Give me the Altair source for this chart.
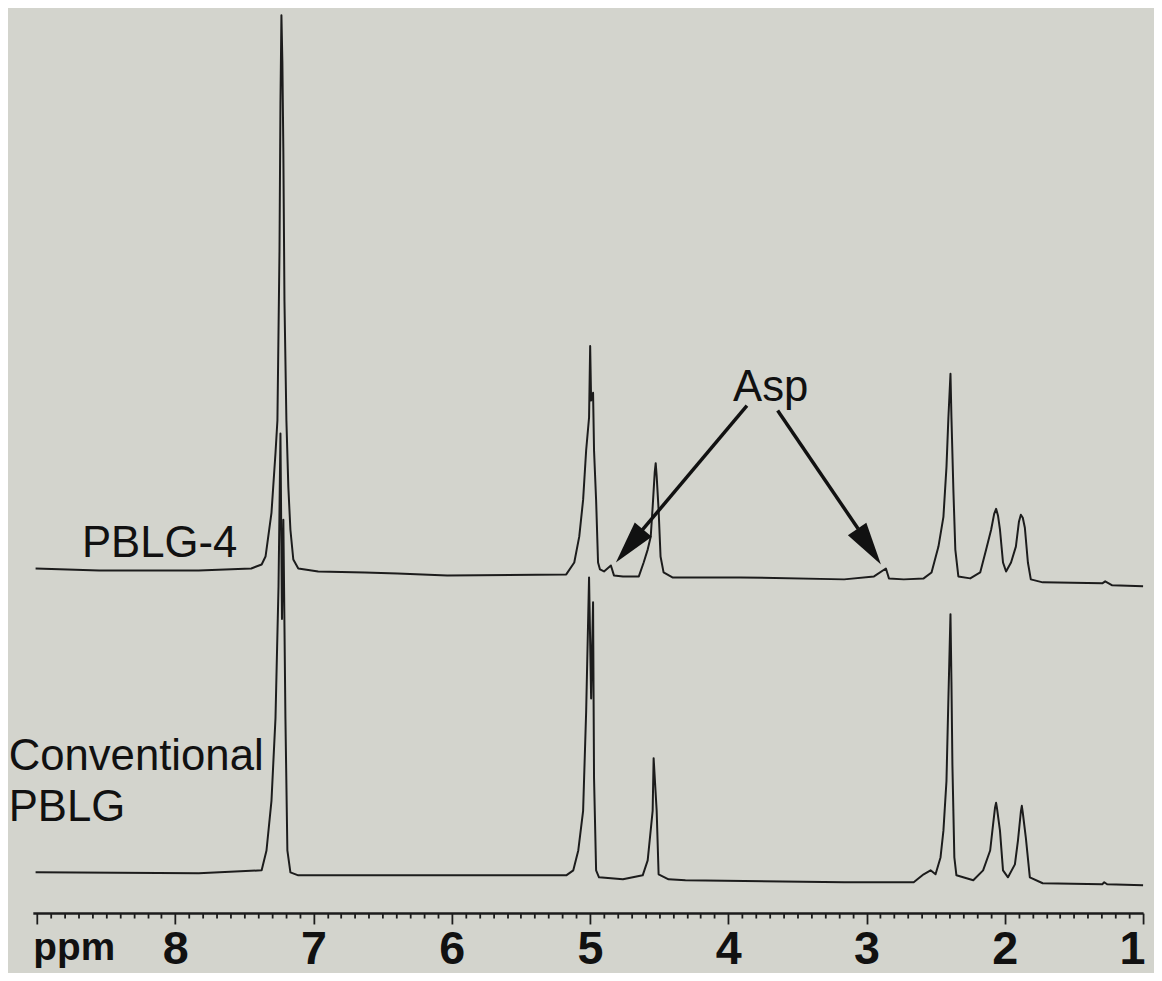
import altair as alt
import pandas as pd

# ---------------- data ----------------
# PBLG-4 trace (upper): chemical shift (ppm) and intensity above its own baseline
ppm_upper = [9.01, 8.55, 7.83, 7.45, 7.375, 7.347, 7.34, 7.304, 7.275, 7.261, 7.246, 7.239,
             7.232, 7.225, 7.218, 7.21, 7.196, 7.182, 7.167, 7.146, 7.11, 6.966, 6.629, 6.392,
             6.033, 5.172, 5.114, 5.078, 5.05, 5.028, 5.007, 4.999, 4.992, 4.978, 4.971, 4.956,
             4.942, 4.928, 4.899, 4.849, 4.827, 4.762, 4.647, 4.612, 4.583, 4.561, 4.547, 4.532,
             4.525, 4.518, 4.504, 4.49, 4.468, 4.404, 4.238, 3.915, 3.162, 2.946, 2.86, 2.838,
             2.731, 2.587, 2.53, 2.48, 2.444, 2.422, 2.408, 2.393, 2.386, 2.372, 2.358, 2.336,
             2.25, 2.178, 2.135, 2.099, 2.077, 2.063, 2.049, 2.035, 2.013, 1.991, 1.955, 1.92,
             1.898, 1.884, 1.87, 1.855, 1.833, 1.812, 1.726, 1.295, 1.274, 1.223, 1.0]
int_upper = [19, 17, 17, 19, 23, 31, 38, 75, 135, 168, 338, 488,
             576, 528, 438, 288, 168, 101, 58, 28, 19, 16, 15, 14,
             12, 13, 25, 51, 88, 138, 171, 243, 188, 196, 138, 88,
             25, 18, 16, 22, 12, 11, 11, 25, 38, 51, 81, 116,
             125, 112, 78, 31, 15, 10, 10, 10, 8, 11, 19, 9,
             8, 9, 15, 41, 71, 121, 171, 215, 171, 98, 38, 11,
             9, 15, 38, 58, 74, 79, 72, 58, 25, 16, 25, 41,
             66, 73, 70, 60, 25, 8, 5, 4, 6, 2, 1]

# Conventional PBLG trace (lower)
ppm_lower = [9.01, 7.83, 7.375, 7.34, 7.304, 7.275, 7.253, 7.239, 7.228, 7.218, 7.203, 7.189,
             7.167, 7.11, 5.172, 5.121, 5.085, 5.05, 5.028, 5.007, 4.992, 4.978, 4.971, 4.956,
             4.935, 4.762, 4.619, 4.583, 4.547, 4.54, 4.518, 4.504, 4.432, 4.31, 3.162, 2.659,
             2.587, 2.537, 2.501, 2.465, 2.444, 2.422, 2.408, 2.393, 2.386, 2.379, 2.365, 2.35,
             2.228, 2.157, 2.106, 2.085, 2.071, 2.063, 2.056, 2.035, 2.013, 1.977, 1.927, 1.905,
             1.884, 1.877, 1.87, 1.848, 1.819, 1.726, 1.295, 1.281, 1.26, 1.0]
int_lower = [15, 14, 17, 37, 87, 170, 303, 457, 270, 370, 170, 37,
             15, 12, 12, 17, 37, 77, 177, 312, 190, 287, 110, 17,
             10, 8, 12, 27, 77, 130, 77, 13, 8, 7, 5, 5,
             13, 17, 13, 30, 57, 107, 190, 275, 207, 123, 30, 12,
             7, 17, 37, 63, 80, 85, 79, 57, 17, 10, 23, 47,
             76, 82, 75, 50, 10, 4, 3, 5, 3, 2]

trace_names = ["PBLG-4", "Conventional PBLG"]

# axis ticks (ppm): minor every 0.1, labelled integers 1..8
tick_values = [round(k / 10, 1) for k in range(10, 91)]

# annotation texts
label_text = ["PBLG-4", "Conventional", "PBLG", "Asp"]
label_ppm = [8.675, 9.205, 9.205, 3.966]
label_y = [359, 144, 93, 516]

# Asp arrows: start, head base and tip (ppm, intensity units), head direction (deg)
arrow_x = [3.865, 3.643]
arrow_y = [511, 506]
arrow_x2 = [4.626, 3.061]
arrow_y2 = [385, 387]
tip_x = [4.813, 2.896]
tip_y = [353, 351]
tip_angle = [219.9, 146.1]

# ---------------- layout / style constants ----------------
OFFSETS = {"PBLG-4": 328, "Conventional PBLG": 26}
BG = "#d3d4cd"
INK = "#1c1c1c"
W, H = 1118, 907
X_DOMAIN = [1.0, 9.03]
Y_DOMAIN = [0, 907]

rows = []
for name, xs, ys in [(trace_names[0], ppm_upper, int_upper),
                     (trace_names[1], ppm_lower, int_lower)]:
    for i, (p, v) in enumerate(zip(xs, ys)):
        rows.append({"trace": name, "ppm": p, "intensity": v,
                     "y": v + OFFSETS[name], "idx": i})
spec = pd.DataFrame(rows)

xscale = alt.Scale(domain=X_DOMAIN, reverse=True, nice=False, zero=False)
yscale = alt.Scale(domain=Y_DOMAIN, nice=False, zero=False)

is_int = "abs(datum.value - round(datum.value)) < 0.01"
at_edge = "datum.value < 1.05"
xaxis = alt.Axis(
    values=tick_values,
    labelExpr=f"(datum.value < 8.5 && {is_int}) ? format(datum.value, 'd') : ''",
    tickSize={"condition": {"test": is_int, "value": 11}, "value": 5},
    tickColor=INK, tickWidth=1.8,
    domainColor=INK, domainWidth=2.5,
    grid=False,
    labelFont="Liberation Sans", labelFontWeight="bold", labelFontSize=47,
    labelColor="#111111", labelFlush=False, labelOverlap=False, labelBound=False,
    labelAlign={"condition": {"test": at_edge, "value": "right"}, "value": "center"},
    labelOffset={"condition": {"test": at_edge, "value": 2}, "value": 0},
    labelBaseline="alphabetic", labelPadding=40,
    title="ppm", titleFont="Liberation Sans", titleFontWeight="bold",
    titleFontSize=39, titleColor="#111111", titleAlign="left",
    titleBaseline="alphabetic", titleX=0, titleY=47, titleAnchor="start",
)

lines = alt.Chart(spec).mark_line(color=INK, strokeWidth=2, strokeJoin="round").encode(
    detail="trace:N",
    order="idx:Q",
)

labels_df = pd.DataFrame({"text": label_text, "ppm": label_ppm, "y": label_y})
labels = alt.Chart(labels_df).mark_text(
    align="left", baseline="alphabetic", font="Liberation Sans", fontSize=44,
    color="#111111"
).encode(text="text:N")

arrows_df = pd.DataFrame({"ppm": arrow_x, "y": arrow_y, "ppm2": arrow_x2, "y2": arrow_y2})
shafts = alt.Chart(arrows_df).mark_rule(color="#111111", strokeWidth=3.5).encode(
    x2="ppm2:Q",
    y2="y2:Q",
)

heads_df = pd.DataFrame({"ppm": tip_x, "y": tip_y, "ang": tip_angle})
heads = alt.Chart(heads_df).mark_point(
    shape="M0,0L0.26,1L-0.26,1Z", filled=True, color="#111111", opacity=1,
    size=7400, strokeWidth=0
).encode(angle=alt.Angle("ang:Q", scale=None))

chart = alt.layer(lines, shafts, heads, labels).encode(
    x=alt.X("ppm:Q", scale=xscale, axis=xaxis),
    y=alt.Y("y:Q", scale=yscale, axis=None),
).properties(
    width=W, height=H,
    autosize=alt.AutoSizeParams(type="none"),
    padding={"left": 25, "top": 1, "right": 11, "bottom": 57},
    background=BG,
).configure_view(stroke=None)

chart.save("out.html", embed_options={"renderer": "svg", "actions": False})
